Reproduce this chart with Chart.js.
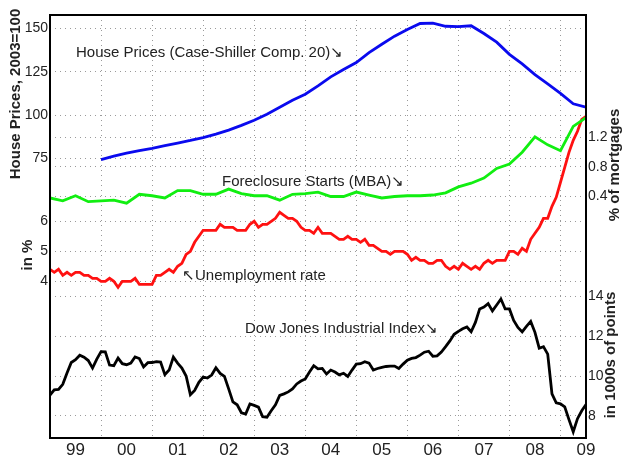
<!DOCTYPE html>
<html><head><meta charset="utf-8">
<script src="https://cdn.jsdelivr.net/npm/chart.js@4.4.0/dist/chart.umd.min.js"></script>
<style>html,body{margin:0;padding:0;background:#fff;}#wrap{width:626px;height:460px;}</style>
</head><body><div id="wrap"><canvas id="c" width="626" height="460"></canvas></div>
<script>
// ---------- data ----------
const yearLabels = ['99','00','01','02','03','04','05','06','07','08','09'];
const firstYear = 1999;
const houseTicks = [75, 100, 125, 150];
const unempTicks = [4, 5, 6];
const mortTicks = [0.4, 0.8, 1.2];
const dowTicks = [8, 10, 12, 14];

// Case-Shiller Composite 20, quarterly from 2000 Q1 (2003=100)
const houseStart = 2000;
const houseValues = [74.3, 76.3, 78.0, 79.5, 80.8, 82.3, 83.8, 85.3, 87.0, 89.0, 91.3, 94.0,
  97.0, 100.5, 104.5, 108.5, 112.0, 116.8, 122.0, 126.3, 130.3, 136.0, 140.8, 145.5,
  149.3, 152.8, 153.0, 151.2, 151.0, 151.5, 147.0, 142.0, 135.0, 129.5, 123.3, 118.0,
  112.5, 106.5, 104.5];

// MBA foreclosure starts, % of mortgages, quarterly from 1999 Q1
const forecloseStart = 1999;
const forecloseValues = [0.38, 0.34, 0.41, 0.33, 0.34, 0.35, 0.31, 0.43, 0.41, 0.38, 0.48, 0.48,
  0.43, 0.43, 0.50, 0.44, 0.41, 0.41, 0.35, 0.43, 0.44, 0.46, 0.40, 0.40,
  0.46, 0.42, 0.38, 0.40, 0.41, 0.41, 0.42, 0.45, 0.53, 0.58, 0.65, 0.78,
  0.84, 1.00, 1.21, 1.10, 1.02, 1.35, 1.47];

// Unemployment rate in %, monthly from Jan 1999
const monthlyStart = 1999;
const unempValues = [4.4,
  4.3, 4.4, 4.2, 4.3, 4.2, 4.3, 4.3, 4.2, 4.2, 4.1, 4.1, 4.0,
  4.0, 4.1, 4.0, 3.8, 4.0, 4.0, 4.0, 4.1, 3.9, 3.9, 3.9, 3.9,
  4.2, 4.2, 4.3, 4.4, 4.3, 4.5, 4.6, 4.9, 5.0, 5.3, 5.5, 5.7,
  5.7, 5.7, 5.7, 5.9, 5.8, 5.8, 5.8, 5.7, 5.7, 5.7, 5.9, 6.0,
  5.8, 5.9, 5.9, 6.0, 6.1, 6.3, 6.2, 6.1, 6.1, 6.0, 5.8, 5.7,
  5.7, 5.6, 5.8, 5.6, 5.6, 5.6, 5.5, 5.4, 5.4, 5.5, 5.4, 5.4,
  5.3, 5.4, 5.2, 5.2, 5.1, 5.0, 5.0, 4.9, 5.0, 5.0, 5.0, 4.9,
  4.7, 4.8, 4.7, 4.7, 4.6, 4.6, 4.7, 4.7, 4.5, 4.4, 4.5, 4.4,
  4.6, 4.5, 4.4, 4.5, 4.4, 4.6, 4.7, 4.6, 4.7, 4.7, 4.7, 5.0,
  5.0, 4.9, 5.1, 5.0, 5.4, 5.6, 5.8, 6.1, 6.1, 6.5, 6.8, 7.3,
  7.8, 8.3, 8.7, 9.0, 9.4, 9.5];

// Dow Jones Industrial Index, thousands of points, monthly from Jan 1999
const dowValues = [9.04, 9.30, 9.33, 9.58, 10.15, 10.68, 10.82, 11.05, 10.95, 10.78, 10.40, 10.85,
  11.23, 11.22, 10.55, 10.52, 10.90, 10.62, 10.57, 10.65, 10.96, 10.88, 10.46, 10.67,
  10.68, 10.72, 10.70, 10.07, 10.30, 10.95, 10.65, 10.40, 10.00, 9.06, 9.27, 9.68,
  9.95, 9.90, 10.05, 10.42, 10.13, 9.98, 9.35, 8.70, 8.55, 8.15, 8.08, 8.59,
  8.52, 8.43, 7.95, 7.92, 8.25, 8.55, 9.02, 9.10, 9.20, 9.35, 9.60, 9.75,
  9.85, 10.20, 10.52, 10.36, 10.38, 10.10, 10.30, 10.20, 10.06, 10.14, 9.98, 10.30,
  10.60, 10.62, 10.72, 10.65, 10.30, 10.38, 10.44, 10.48, 10.50, 10.50, 10.38, 10.60,
  10.80, 10.89, 10.93, 11.05, 11.20, 11.25, 11.00, 11.02, 11.21, 11.48, 11.77, 12.10,
  12.25, 12.38, 12.47, 12.23, 12.70, 13.38, 13.47, 13.65, 13.28, 13.58, 13.88, 13.38,
  13.38, 12.80, 12.45, 12.22, 12.50, 12.75, 12.20, 11.40, 11.48, 11.10, 9.10, 8.65,
  8.60, 8.45, 7.80, 7.19, 7.85, 8.25, 8.56];

// ---------- axis ranges (each series has its own vertical scale) ----------
const R = {
  house: [-86.35, 157.7],
  unemp: [-1.223, 12.877],
  mort: [-2.875, 2.861],
  dow: [6.877, 28.19]
};
const conv = (v, from, to) => to[0] + (v - from[0]) / (from[1] - from[0]) * (to[1] - to[0]);

// ---------- build ----------
const toPts = (vals, start, step) => vals.map((v, i) => ({x: start + i * step, y: v}));
const FONT = 'Liberation Sans, Arial, sans-serif';
const TXT = '#222';
const GRID = '#9a9a9a';
const DASH = [1, 4];

const xTickValues = [];
for (let i = 0; i <= (yearLabels.length - 1) * 2 + 1; i++) xTickValues.push(firstYear + i * 0.5);

// visible axis carries its own ticks plus the ticks of the hidden companion axis
function combinedTicks(own, ownRange, other, otherRange, fmtOther) {
  const list = own.map(v => ({value: v, label: String(v)}))
    .concat(other.map(v => ({value: conv(v, otherRange, ownRange), label: fmtOther(v)})));
  list.sort((a, b) => a.value - b.value);
  return list;
}
const leftTicks = combinedTicks(houseTicks, R.house, unempTicks, R.unemp, v => String(v));
const rightTicks = combinedTicks(dowTicks, R.dow, mortTicks, R.mort, v => v.toFixed(1));

const visAxis = (pos, range, list, width) => ({
  type: 'linear', position: pos, min: range[0], max: range[1],
  afterBuildTicks: s => { s.ticks = list.map(t => ({value: t.value})); },
  afterFit: s => { s.width = width; },
  ticks: {font: {family: FONT, size: 14}, color: TXT, padding: 2, callback: (v, i) => list[i].label},
  grid: {color: GRID, lineWidth: 1, drawTicks: false},
  border: {display: false, dash: DASH}
});
const hidAxis = (pos, range) => ({type: 'linear', position: pos, display: false, min: range[0], max: range[1]});

const notes = [
  {text: 'House Prices (Case-Shiller Comp. 20)\u2198', x: 1999.51, y: 135.8, axis: 'yHouse'},
  {text: 'Foreclosure Starts (MBA)\u2198', x: 2002.37, y: 0.597, axis: 'yMort'},
  {text: '\u2196Unemployment rate', x: 2001.585, y: 4.18, axis: 'yUnemp'},
  {text: 'Dow Jones Industrial Index\u2198', x: 2002.82, y: 12.37, axis: 'yDow'}
];
const titles = [
  {text: 'House Prices, 2003=100', x: 16, y: 94},
  {text: 'in %', x: 28, y: 255},
  {text: '% of mortgages', x: 615, y: 165},
  {text: 'in 1000s of points', x: 611, y: 355}
];

const decor = {
  id: 'decor',
  afterDatasetsDraw(chart) {
    const ctx = chart.ctx, xs = chart.scales.x;
    ctx.save();
    ctx.fillStyle = TXT;
    ctx.font = '15px ' + FONT;
    ctx.textAlign = 'left';
    ctx.textBaseline = 'middle';
    notes.forEach(n => {
      ctx.fillText(n.text, xs.getPixelForValue(n.x), chart.scales[n.axis].getPixelForValue(n.y));
    });
    ctx.restore();
  },
  afterDraw(chart) {
    const ctx = chart.ctx, a = chart.chartArea;
    ctx.save();
    ctx.strokeStyle = '#000';
    ctx.lineWidth = 2;
    ctx.strokeRect(a.left, a.top, a.right - a.left, a.bottom - a.top);
    ctx.fillStyle = TXT;
    ctx.font = 'bold 15px ' + FONT;
    ctx.textAlign = 'center';
    ctx.textBaseline = 'middle';
    titles.forEach(t => {
      ctx.save();
      ctx.translate(t.x, t.y);
      ctx.rotate(-Math.PI / 2);
      ctx.fillText(t.text, 0, 0);
      ctx.restore();
    });
    ctx.restore();
  }
};

const lineDs = (label, data, color, axis) => ({
  label, data, borderColor: color, backgroundColor: color, yAxisID: axis, xAxisID: 'x',
  borderWidth: 2.8, pointRadius: 0, tension: 0, fill: false
});

new Chart(document.getElementById('c'), {
  type: 'line',
  data: {
    datasets: [
      lineDs('House Prices', toPts(houseValues, houseStart, 0.25), '#0a0aee', 'yHouse'),
      lineDs('Foreclosure Starts', toPts(forecloseValues, forecloseStart, 0.25), '#11ee11', 'yMort'),
      lineDs('Unemployment rate', toPts(unempValues, monthlyStart, 1 / 12), '#ff1111', 'yUnemp'),
      lineDs('Dow Jones', toPts(dowValues, monthlyStart, 1 / 12), '#000000', 'yDow')
    ]
  },
  options: {
    responsive: false, animation: false, devicePixelRatio: 1,
    layout: {padding: {top: 15, left: 0, right: 0, bottom: 0}},
    plugins: {legend: {display: false}, tooltip: {enabled: false}},
    scales: {
      x: {
        type: 'linear', position: 'bottom', min: firstYear, max: firstYear + yearLabels.length - 0.5,
        afterBuildTicks: s => { s.ticks = xTickValues.map(v => ({value: v})); },
        afterFit: s => { s.height = 22; },
        ticks: {
          font: {family: FONT, size: 17}, color: TXT, padding: 2, autoSkip: false, maxRotation: 0,
          callback: v => (Math.abs(v - Math.floor(v) - 0.5) < 1e-6) ? yearLabels[Math.floor(v) - firstYear] : ''
        },
        grid: {
          drawTicks: false, lineWidth: 1,
          color: c => (c.tick && Math.abs(c.tick.value - Math.round(c.tick.value)) < 1e-6) ? GRID : 'rgba(0,0,0,0)'
        },
        border: {display: false, dash: DASH}
      },
      yHouse: visAxis('left', R.house, leftTicks, 50),
      yUnemp: hidAxis('left', R.unemp),
      yMort: hidAxis('right', R.mort),
      yDow: visAxis('right', R.dow, rightTicks, 40)
    }
  },
  plugins: [decor]
});
</script></body></html>
